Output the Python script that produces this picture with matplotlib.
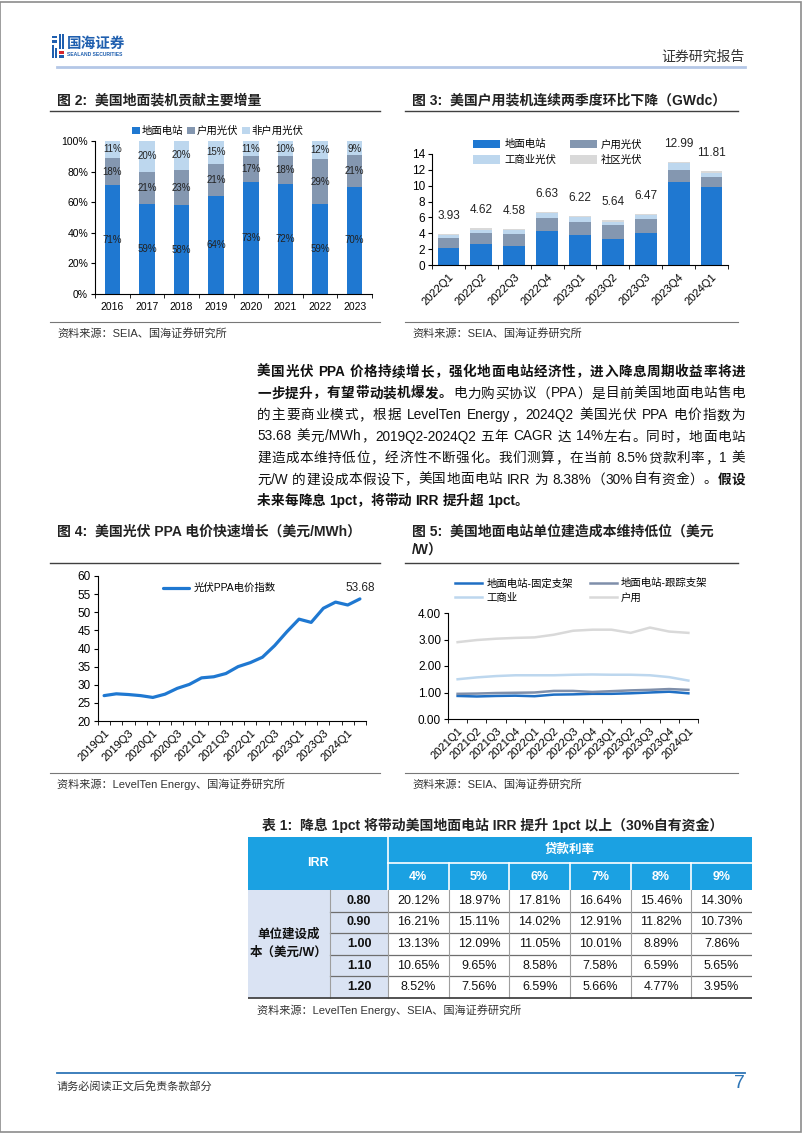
import matplotlib
matplotlib.use('Agg')
import matplotlib.pyplot as plt
from matplotlib.patches import Rectangle, Patch
from matplotlib.lines import Line2D
import numpy as np

plt.rcParams['font.family'] = ['Liberation Sans', 'Noto Sans CJK SC', 'DejaVu Sans']
plt.rcParams['axes.linewidth'] = 0.8

# ---------------- data ----------------
years = ['2016', '2017', '2018', '2019', '2020', '2021', '2022', '2023']
ground_share = [71, 59, 58, 64, 73, 72, 59, 70]
resi_share = [18, 21, 23, 21, 17, 18, 29, 21]
nonresi_share = [11, 20, 20, 15, 11, 10, 12, 9]

quarters3 = ['2022Q1', '2022Q2', '2022Q3', '2022Q4', '2023Q1', '2023Q2', '2023Q3', '2023Q4', '2024Q1']
q_ground = [2.20, 2.65, 2.40, 4.24, 3.74, 3.28, 4.00, 10.50, 9.79]
q_resi = [1.20, 1.35, 1.55, 1.73, 1.68, 1.72, 1.84, 1.47, 1.30]
q_comm = [0.35, 0.45, 0.45, 0.55, 0.60, 0.45, 0.45, 0.85, 0.50]
q_community = [0.18, 0.17, 0.18, 0.11, 0.20, 0.19, 0.18, 0.17, 0.22]
q_total = [3.93, 4.62, 4.58, 6.63, 6.22, 5.64, 6.47, 12.99, 11.81]

quarters4 = ['2019Q1', '2019Q2', '2019Q3', '2019Q4', '2020Q1', '2020Q2', '2020Q3', '2020Q4',
             '2021Q1', '2021Q2', '2021Q3', '2021Q4', '2022Q1', '2022Q2', '2022Q3', '2022Q4',
             '2023Q1', '2023Q2', '2023Q3', '2023Q4', '2024Q1', '2024Q2']
ppa_index = [27.0, 27.5, 27.3, 27.0, 26.5, 27.4, 29.0, 30.1, 31.9, 32.2, 33.1, 35.0,
             36.1, 37.6, 40.8, 44.6, 48.1, 47.2, 51.1, 52.8, 52.0, 53.68]

quarters5 = ['2021Q1', '2021Q2', '2021Q3', '2021Q4', '2022Q1', '2022Q2', '2022Q3', '2022Q4',
             '2023Q1', '2023Q2', '2023Q3', '2023Q4', '2024Q1']
cost_fixed = [0.87, 0.85, 0.87, 0.88, 0.86, 0.92, 0.93, 0.95, 0.95, 0.97, 1.00, 1.03, 0.97]
cost_tracking = [0.95, 0.96, 0.98, 0.99, 1.00, 1.06, 1.06, 1.02, 1.05, 1.08, 1.10, 1.13, 1.10]
cost_comm = [1.50, 1.57, 1.62, 1.65, 1.65, 1.65, 1.67, 1.68, 1.67, 1.67, 1.65, 1.58, 1.45]
cost_resi = [2.90, 2.98, 3.03, 3.06, 3.08, 3.18, 3.33, 3.37, 3.37, 3.25, 3.45, 3.30, 3.25]

loan_rates = ['4%', '5%', '6%', '7%', '8%', '9%']
unit_costs = ['0.80', '0.90', '1.00', '1.10', '1.20']
irr_table = [['20.12%', '18.97%', '17.81%', '16.64%', '15.46%', '14.30%'],
             ['16.21%', '15.11%', '14.02%', '12.91%', '11.82%', '10.73%'],
             ['13.13%', '12.09%', '11.05%', '10.01%', '8.89%', '7.86%'],
             ['10.65%', '9.65%', '8.58%', '7.58%', '6.59%', '5.65%'],
             ['8.52%', '7.56%', '6.59%', '5.66%', '4.77%', '3.95%']]

# ---------------- figure helpers ----------------
W, H = 802, 1133
fig = plt.figure(figsize=(8.02, 11.33), dpi=100)
renderer = fig.canvas.get_renderer()

def fx(x):
    return x / W

def fy(y):
    return 1 - y / H

def add_ax(x0, y0, x1, y1):
    return fig.add_axes([x0 / W, 1 - y1 / H, (x1 - x0) / W, (y1 - y0) / H])

def hline(x0, x1, y, color='#404040', lw=1.0):
    fig.add_artist(Line2D([fx(x0), fx(x1)], [fy(y), fy(y)], transform=fig.transFigure,
                          color=color, lw=lw))

def ftext(x, y, s, **kw):
    return fig.text(fx(x), fy(y), s, **kw)

BLUE = '#1F78D1'
GRAYBLUE = '#8497B0'
LIGHTBLUE = '#BDD7EE'
LIGHTGRAY = '#D9D9D9'
TXT = '#222222'

# page border
fig.add_artist(Rectangle((0.0005, 0.0005), 0.998, 0.998, transform=fig.transFigure,
                         fill=False, ec='#8C8C8C', lw=1.2))

# ---------------- header ----------------
# logo icon
logo = fig.add_axes([fx(52), fy(58), 12 / W, 24 / H])
logo.set_xlim(0, 12); logo.set_ylim(0, 24); logo.axis('off')
for (x, y, w, h, c) in [(0, 20, 5, 2.5, '#1F5FAF'), (0, 15.5, 5, 2.5, '#1F5FAF'),
                        (0, 0, 2.2, 13, '#1F5FAF'), (3, 0, 2.2, 10, '#1F5FAF'),
                        (6.5, 9, 2.2, 15, '#1F5FAF'), (9.5, 9, 2.2, 15, '#1F5FAF'),
                        (6.5, 4.5, 5.2, 2.8, '#D7262B'), (6.5, 0, 5.2, 2.8, '#1F5FAF')]:
    logo.add_patch(Rectangle((x, y), w, h, color=c, lw=0))
ftext(67, 44, '国海证券', fontsize=10.5, weight='bold', color='#1F5FAF', va='center')
ftext(67, 54, 'SEALAND SECURITIES', fontsize=3.6, weight='bold', color='#1F5FAF', va='center')
ftext(745, 57, '证券研究报告', fontsize=10, color='#333333', va='center', ha='right')
hline(57, 745, 67, color='#B4C7E7', lw=2)

# ---------------- footer ----------------
hline(57, 745, 1073, color='#2E75B6', lw=1.3)
ftext(57, 1086, '请务必阅读正文后免责条款部分', fontsize=8, color='#333333', va='center')
ftext(745, 1084, '7', fontsize=14, color='#2E75B6', va='center', ha='right')

# ---------------- titles & sources ----------------
ftext(57, 100, '图 2:  美国地面装机贡献主要增量', fontsize=10, weight='bold', color=TXT, va='center')
ftext(412, 100, '图 3:  美国户用装机连续两季度环比下降（GWdc）', fontsize=10, weight='bold', color=TXT, va='center')
hline(50, 380, 111, lw=1.0)
hline(405, 738, 111, lw=1.0)
hline(50, 380, 322, color='#777777', lw=0.8)
hline(405, 738, 322, color='#777777', lw=0.8)
ftext(57, 333, '资料来源：SEIA、国海证券研究所', fontsize=8, color='#333333', va='center')
ftext(412, 333, '资料来源：SEIA、国海证券研究所', fontsize=8, color='#333333', va='center')

ftext(57, 532, '图 4:  美国光伏 PPA 电价快速增长（美元/MWh）', fontsize=10, weight='bold', color=TXT, va='center')
ftext(412, 532, '图 5:  美国地面电站单位建造成本维持低位（美元', fontsize=10, weight='bold', color=TXT, va='center')
ftext(412, 551, '/W）', fontsize=10, weight='bold', color=TXT, va='center')
hline(50, 380, 563, lw=1.0)
hline(405, 738, 563, lw=1.0)
hline(50, 380, 773, color='#777777', lw=0.8)
hline(405, 738, 773, color='#777777', lw=0.8)
ftext(57, 784, '资料来源：LevelTen Energy、国海证券研究所', fontsize=8, color='#333333', va='center')
ftext(412, 784, '资料来源：SEIA、国海证券研究所', fontsize=8, color='#333333', va='center')

# ---------------- paragraph ----------------
para = [
    [('美国光伏 PPA 价格持续增长，强化地面电站经济性，进入降息周期收益率将进', 'bold')],
    [('一步提升，有望带动装机爆发。', 'bold'), ('电力购买协议（PPA）是目前美国地面电站售电', 'normal')],
    [('的主要商业模式，根据 LevelTen Energy，2024Q2 美国光伏 PPA 电价指数为', 'normal')],
    [('53.68 美元/MWh，2019Q2-2024Q2 五年 CAGR 达 14%左右。同时，地面电站', 'normal')],
    [('建造成本维持低位，经济性不断强化。我们测算，在当前 8.5%贷款利率，1 美', 'normal')],
    [('元/W 的建设成本假设下，美国地面电站 IRR 为 8.38%（30%自有资金）。', 'normal'), ('假设', 'bold')],
    [('未来每降息 1pct，将带动 IRR 提升超 1pct。', 'bold')],
]
PX0, PX1 = 257, 745
py = 372
for li, segs in enumerate(para):
    # split into tokens (latin words kept together, CJK per char)
    tokens = []
    for s, wgt in segs:
        buf = ''
        for ch in s:
            if ord(ch) < 128 and ch != ' ':
                buf += ch
            else:
                if buf:
                    tokens.append((buf, wgt)); buf = ''
                tokens.append((ch, wgt))
        if buf:
            tokens.append((buf, wgt))
    arts = []
    widths = []
    for tok, wgt in tokens:
        t = ftext(0, py, tok, fontsize=9.8, weight=wgt, color='#111111', va='center', ha='left')
        bb = t.get_window_extent(renderer)
        arts.append(t)
        widths.append(bb.width)
    total = sum(widths)
    justify = li < len(para) - 1
    gap = (PX1 - PX0 - total) / (len(tokens) - 1) if justify else 0
    gap = max(gap, 0)
    x = PX0
    for t, w in zip(arts, widths):
        t.set_x(fx(x))
        x += w + gap
    py += 21.5

# ---------------- Figure 2 ----------------
ax2 = add_ax(95, 141, 372, 294)
xi = np.arange(len(years))
g = np.array(ground_share) / 100
r = np.array(resi_share) / 100
n = np.array(nonresi_share) / 100
bw = 0.45
ax2.bar(xi, g, bw, color=BLUE, label='地面电站')
ax2.bar(xi, r, bw, bottom=g, color=GRAYBLUE, label='户用光伏')
ax2.bar(xi, n, bw, bottom=g + r, color=LIGHTBLUE, label='非户用光伏')
for i in xi:
    ax2.text(i, g[i] / 2, f'{ground_share[i]}%', ha='center', va='center', fontsize=7, color='#222222')
    ax2.text(i, g[i] + r[i] / 2, f'{resi_share[i]}%', ha='center', va='center', fontsize=7, color='#222222')
    ax2.text(i, min(g[i] + r[i] + n[i] / 2, 0.95), f'{nonresi_share[i]}%', ha='center', va='center', fontsize=7, color='#222222')
ax2.set_xlim(-0.5, len(years) - 0.5)
ax2.set_ylim(0, 1)
ax2.set_yticks(np.arange(0, 1.01, 0.2))
ax2.set_yticklabels([f'{int(v * 100)}%' for v in np.arange(0, 1.01, 0.2)], fontsize=7.5)
ax2.set_xticks(xi)
ax2.set_xticklabels(years, fontsize=7.5)
ax2.set_xticks(np.arange(-0.5, len(years), 1), minor=True)
ax2.tick_params(axis='x', which='major', length=0, pad=6)
ax2.tick_params(axis='x', which='minor', length=3, direction='out')
ax2.tick_params(axis='y', length=3, direction='out', pad=2)
for s in ['top', 'right']:
    ax2.spines[s].set_visible(False)
ax2.legend(loc='center', bbox_to_anchor=(fx(218), fy(131)), bbox_transform=fig.transFigure,
           ncol=3, frameon=False, fontsize=7.5, handlelength=0.7, handleheight=0.7,
           handletextpad=0.2, columnspacing=0.4, borderpad=0)

# ---------------- Figure 3 ----------------
ax3 = add_ax(432, 154, 728, 265)
xq = np.arange(len(quarters3))
a = np.array(q_ground); b = np.array(q_resi); c = np.array(q_comm); d = np.array(q_community)
bw3 = 0.66
h1 = ax3.bar(xq, a, bw3, color=BLUE, label='地面电站')
h2 = ax3.bar(xq, b, bw3, bottom=a, color=GRAYBLUE, label='户用光伏')
h3 = ax3.bar(xq, c, bw3, bottom=a + b, color=LIGHTBLUE, label='工商业光伏')
h4 = ax3.bar(xq, d, bw3, bottom=a + b + c, color=LIGHTGRAY, label='社区光伏')
for i in xq:
    ax3.annotate(f'{q_total[i]:.2f}', (i, a[i] + b[i] + c[i] + d[i]), xytext=(0, 13),
                 textcoords='offset points', ha='center', va='center', fontsize=8.5,
                 color='#222222', annotation_clip=False)
ax3.set_xlim(-0.5, len(quarters3) - 0.5)
ax3.set_ylim(0, 14)
ax3.set_yticks(np.arange(0, 15, 2))
ax3.tick_params(axis='y', labelsize=8.5, length=3, pad=2)
ax3.set_xticks(xq)
ax3.set_xticklabels(quarters3, fontsize=8, rotation=45, ha='right', rotation_mode='anchor')
ax3.set_xticks(np.arange(-0.5, len(quarters3), 1), minor=True)
ax3.tick_params(axis='x', which='major', length=0, pad=5)
ax3.tick_params(axis='x', which='minor', length=3)
for s in ['top', 'right']:
    ax3.spines[s].set_visible(False)
ax3.legend(handles=[h1, h3, h2, h4], loc='upper left', bbox_to_anchor=(fx(468), fy(134)),
           bbox_transform=fig.transFigure, ncol=2, frameon=False, fontsize=7.5,
           handlelength=2.6, handleheight=0.85, handletextpad=0.4, columnspacing=1.3,
           labelspacing=0.55, borderpad=0)

# ---------------- Figure 4 ----------------
ax4 = add_ax(98, 576, 366, 721)
x4 = np.arange(len(quarters4))
ax4.plot(x4, ppa_index, color=BLUE, lw=2.3, label='光伏PPA电价指数', solid_capstyle='round')
ax4.annotate(f'{ppa_index[-1]:.2f}', (x4[-1], ppa_index[-1]), xytext=(0, 8), textcoords='offset points',
             ha='center', va='center', fontsize=8.5, color='#222222', annotation_clip=False)
ax4.set_xlim(-0.5, len(quarters4) - 0.5)
ax4.set_ylim(20, 60)
ax4.set_yticks(np.arange(20, 61, 5))
ax4.tick_params(axis='y', labelsize=8.5, length=3, pad=2)
ax4.set_xticks(x4[::2])
ax4.set_xticklabels(quarters4[::2], fontsize=8, rotation=45, ha='right', rotation_mode='anchor')
ax4.set_xticks(np.arange(-0.5, len(quarters4), 1), minor=True)
ax4.tick_params(axis='x', which='major', length=0, pad=5)
ax4.tick_params(axis='x', which='minor', length=3)
for s in ['top', 'right']:
    ax4.spines[s].set_visible(False)
ax4.legend(loc='upper left', bbox_to_anchor=(fx(158), fy(578)), bbox_transform=fig.transFigure,
           frameon=False, fontsize=7.5, handlelength=2.5, handletextpad=0.4, borderpad=0)

# ---------------- Figure 5 ----------------
ax5 = add_ax(448, 613, 698, 719)
x5 = np.arange(len(quarters5))
l1, = ax5.plot(x5, cost_fixed, color='#1F6FC4', lw=1.8, label='地面电站-固定支架')
l2, = ax5.plot(x5, cost_tracking, color='#7F8FAA', lw=1.8, label='地面电站-跟踪支架')
l3, = ax5.plot(x5, cost_comm, color=LIGHTBLUE, lw=1.8, label='工商业')
l4, = ax5.plot(x5, cost_resi, color=LIGHTGRAY, lw=1.8, label='户用')
ax5.set_xlim(-0.5, len(quarters5) - 0.5)
ax5.set_ylim(0, 4)
ax5.set_yticks(np.arange(0, 4.1, 1))
ax5.set_yticklabels([f'{v:.2f}' for v in np.arange(0, 4.1, 1)])
ax5.tick_params(axis='y', labelsize=8.5, length=3, pad=2)
ax5.set_xticks(x5)
ax5.set_xticklabels(quarters5, fontsize=8, rotation=45, ha='right', rotation_mode='anchor')
ax5.set_xticks(np.arange(-0.5, len(quarters5), 1), minor=True)
ax5.tick_params(axis='x', which='major', length=0, pad=5)
ax5.tick_params(axis='x', which='minor', length=3)
for s in ['top', 'right']:
    ax5.spines[s].set_visible(False)
ax5.legend(handles=[l1, l3, l2, l4], loc='upper left', bbox_to_anchor=(fx(450), fy(573)),
           bbox_transform=fig.transFigure, ncol=2, frameon=False, fontsize=7.5,
           handlelength=2.6, handletextpad=0.4, columnspacing=1.6, labelspacing=0.45, borderpad=0)

# ---------------- Table ----------------
ftext(262, 825, '表 1:  降息 1pct 将带动美国地面电站 IRR 提升 1pct 以上（30%自有资金）',
      fontsize=10, weight='bold', color=TXT, va='center')
TL, TR, TT, TB = 248, 752, 837, 998
axt = add_ax(TL, TT - 2, TR, TB + 2)
axt.set_xlim(TL, TR); axt.set_ylim(TB + 2, TT - 2); axt.axis('off')
HDR = '#1BA1E2'
LAB = '#DAE3F3'
c0, c1, c2 = 248, 330, 388
colw = (TR - c2) / 6
hdr_mid = 863
hdr_bot = 890
rowh = (TB - hdr_bot) / 5
axt.add_patch(Rectangle((TL, TT), TR - TL, hdr_bot - TT, color=HDR, lw=0))
axt.plot([c2, c2], [TT, hdr_bot], color='white', lw=1.2)
axt.plot([c2, TR], [hdr_mid, hdr_mid], color='white', lw=1.2)
for k in range(1, 6):
    xx = c2 + k * colw
    axt.plot([xx, xx], [hdr_mid, hdr_bot], color='white', lw=1.2)
axt.text((c0 + c2) / 2, (TT + hdr_bot) / 2, 'IRR', color='white', fontsize=9, weight='bold', ha='center', va='center')
axt.text((c2 + TR) / 2, (TT + hdr_mid) / 2, '贷款利率', color='white', fontsize=9, weight='bold', ha='center', va='center')
for k, lab in enumerate(loan_rates):
    axt.text(c2 + (k + 0.5) * colw, (hdr_mid + hdr_bot) / 2, lab, color='white', fontsize=9,
             weight='bold', ha='center', va='center')
axt.add_patch(Rectangle((c0, hdr_bot), c2 - c0, TB - hdr_bot, color=LAB, lw=0))
axt.text((c0 + c1) / 2, (hdr_bot + TB) / 2 - 9, '单位建设成', fontsize=9, weight='bold', ha='center', va='center', color='#111111')
axt.text((c0 + c1) / 2, (hdr_bot + TB) / 2 + 9, '本（美元/W）', fontsize=9, weight='bold', ha='center', va='center', color='#111111')
for rI, uc in enumerate(unit_costs):
    yc = hdr_bot + (rI + 0.5) * rowh
    axt.text((c1 + c2) / 2, yc, uc, fontsize=9, weight='bold', ha='center', va='center', color='#111111')
    for k in range(6):
        axt.text(c2 + (k + 0.5) * colw, yc, irr_table[rI][k], fontsize=9, ha='center', va='center', color='#111111')
    if rI > 0:
        yl = hdr_bot + rI * rowh
        axt.plot([c1, TR], [yl, yl], color='#6E6E6E', lw=0.9)
axt.plot([c1, c1], [hdr_bot, TB], color='#9E9E9E', lw=0.8)
for k in range(0, 6):
    xx = c2 + k * colw
    axt.plot([xx, xx], [hdr_bot, TB], color='#9E9E9E', lw=0.8)
axt.plot([TL, TR], [TB, TB], color='#444444', lw=1.3)
ftext(257, 1010, '资料来源：LevelTen Energy、SEIA、国海证券研究所', fontsize=8, color='#333333', va='center')

fig.savefig('out.png', dpi=100)
